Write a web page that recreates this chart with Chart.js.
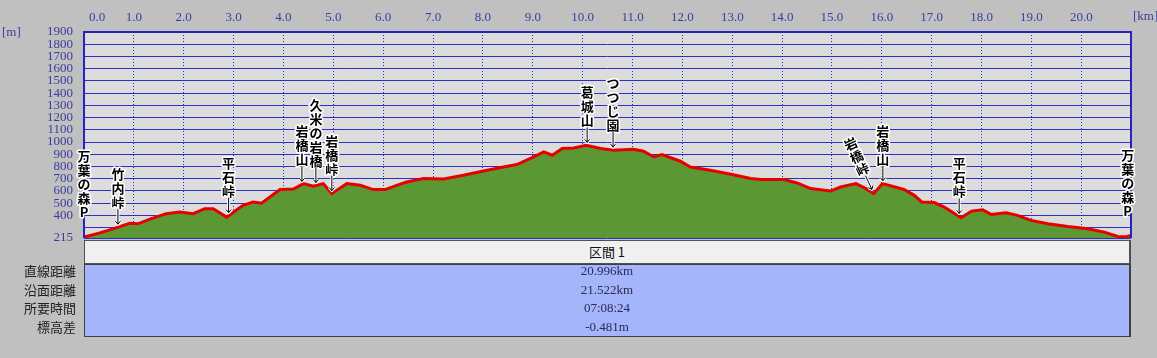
<!DOCTYPE html>
<html lang="ja">
<head>
<meta charset="utf-8">
<script src="https://cdn.jsdelivr.net/npm/chart.js@4.4.0/dist/chart.umd.min.js"></script>
<style>
  body { margin: 0; background: #c0c0c0; }
  #wrap { position: relative; width: 1157px; height: 358px; overflow: hidden; }
  #profileChart { position: absolute; left: 0; top: 0; }
  .sectionHead {
    position: absolute; left: 84px; top: 240px; width: 1044px; height: 22px;
    background: #f0f0f0; border: 1px solid #505050; border-right-width: 2px;
    font: 13px/22px "Noto Sans CJK JP", sans-serif; color: #111;
    text-align: center;
  }
  .sectionBody {
    position: absolute; left: 84px; top: 264px; width: 1044px; height: 71px;
    background: #a5b5fc; border: 1px solid #404040; border-right-width: 2px;
  }
  .rowLabels {
    position: absolute; top: 262px; left: 0; width: 76px; text-align: right;
    font: 13px/18.7px "Noto Sans CJK JP", sans-serif; color: #222;
  }
  .rowValues {
    position: absolute; top: 262px; left: 84px; width: 1046px; text-align: center;
    font: 13px/18.7px "Liberation Serif", serif; color: #2a2a55;
  }
</style>
</head>
<body>
<div id="wrap">
  <canvas id="profileChart" width="1157" height="358"></canvas>
  <div class="sectionHead" id="sectionHead"></div>
  <div class="sectionBody"></div>
  <div class="rowLabels" id="rowLabels"></div>
  <div class="rowValues" id="rowValues"></div>
</div>
<script>
// route profile: distance [km] / elevation [m]
const distKm = [
  0.00, 0.30, 0.58, 0.92, 1.08, 1.35, 1.65, 1.92, 2.19, 2.42,
  2.59, 2.86, 3.19, 3.39, 3.56, 3.93, 4.20, 4.40, 4.60, 4.80,
  4.97, 5.27, 5.54, 5.80, 6.04, 6.27, 6.47, 6.81, 7.21, 7.61,
  8.01, 8.41, 8.68, 9.02, 9.22, 9.39, 9.59, 9.82, 10.07, 10.36,
  10.62, 11.02, 11.22, 11.43, 11.59, 11.96, 12.16, 12.56, 12.97, 13.37,
  13.57, 14.04, 14.30, 14.57, 14.97, 15.17, 15.48, 15.68, 15.84, 16.01,
  16.21, 16.45, 16.65, 16.80, 17.05, 17.25, 17.59, 17.80, 18.02, 18.19,
  18.49, 18.72, 18.99, 19.33, 19.73, 20.13, 20.46, 20.73, 20.90, 20.996
];
const elevM = [
  222, 255, 290, 336, 331, 373, 414, 427, 414, 455,
  455, 386, 482, 509, 500, 611, 615, 660, 638, 660,
  578, 660, 646, 611, 611, 646, 673, 701, 698, 728,
  763, 796, 816, 878, 919, 892, 947, 952, 974, 947,
  933, 941, 925, 878, 898, 843, 796, 769, 736, 701,
  693, 693, 665, 619, 599, 632, 660, 619, 578, 660,
  638, 611, 564, 510, 505, 468, 381, 435, 446, 408,
  422, 400, 359, 332, 309, 291, 263, 227, 226, 235
];

const xTickValues = [0, 1, 2, 3, 4, 5, 6, 7, 8, 9, 10, 11, 12, 13, 14, 15, 16, 17, 18, 19, 20];
const yTickValues = [215, 300, 400, 500, 600, 700, 800, 900, 1000, 1100, 1200,
  1300, 1400, 1500, 1600, 1700, 1800, 1900];
const yHiddenLabels = [300];

// place names along the route
const placeNames = ["万葉の森P", "竹内峠", "平石峠", "岩橋山", "久米の岩橋", "岩橋峠",
  "葛城山", "つつじ園", "岩橋峠", "岩橋山", "平石峠", "万葉の森P"];
const placeKm = [0, 0.68, 2.9, 4.37, 4.65, 4.97, 10.09, 10.61, 15.8, 16.02, 17.55, 20.93];
const placeArrow = [false, true, true, true, true, true, true, true, true, true, true, false];
const placeSlant = [false, false, false, false, false, false, false, false, true, false, false, false];

const statLabels = ["直線距離", "沿面距離", "所要時間", "標高差"];
const statValues = ["20.996km", "21.522km", "07:08:24", "-0.481m"];
const sectionTitle = "区間 1";

document.getElementById("sectionHead").textContent = sectionTitle;
document.getElementById("rowLabels").innerHTML = statLabels.join("<br>");
document.getElementById("rowValues").innerHTML = statValues.join("<br>");

const tickColor = "#3c3ca0";
const gridBlue = "#2e2ec8";

function elevAt(km) {
  for (let i = 1; i < distKm.length; i++) {
    if (km <= distKm[i]) {
      const t = (km - distKm[i - 1]) / (distKm[i] - distKm[i - 1]);
      return elevM[i - 1] + t * (elevM[i] - elevM[i - 1]);
    }
  }
  return elevM[elevM.length - 1];
}

function drawPlaceLabel(ctx, text, tipX, tipY, arrow, slant) {
  const ang = slant ? 25 * Math.PI / 180 : 0;
  const dx = Math.sin(ang), dy = Math.cos(ang);
  const chars = [...text];
  ctx.save();
  ctx.font = 'bold 13px "Noto Sans CJK JP", sans-serif';
  ctx.textAlign = "center";
  ctx.textBaseline = "middle";
  ctx.lineJoin = "round";
  chars.reverse().forEach((ch, k) => {
    const d = 22 + 14 * k;
    const cx = tipX - dx * d, cy = tipY - dy * d;
    ctx.save();
    ctx.translate(cx, cy);
    ctx.rotate(-ang);
    ctx.lineWidth = 3;
    ctx.strokeStyle = "#fff";
    ctx.strokeText(ch, 0, 0);
    ctx.fillStyle = "#000";
    ctx.fillText(ch, 0, 0);
    ctx.restore();
  });
  if (arrow) {
    const sx = tipX - dx * 15, sy = tipY - dy * 15;
    const path = () => {
      ctx.beginPath();
      ctx.moveTo(sx, sy);
      ctx.lineTo(tipX, tipY);
      ctx.moveTo(tipX - 2.5 * dy - 3 * dx, tipY + 2.5 * dx - 3 * dy);
      ctx.lineTo(tipX, tipY);
      ctx.lineTo(tipX + 2.5 * dy - 3 * dx, tipY - 2.5 * dx - 3 * dy);
    };
    ctx.strokeStyle = "#fff";
    ctx.lineWidth = 3;
    path();
    ctx.stroke();
    ctx.strokeStyle = "#000";
    ctx.lineWidth = 1;
    path();
    ctx.stroke();
  }
  ctx.restore();
}

const profileDecor = {
  id: "profileDecor",
  beforeDraw(chart) {
    const { ctx, chartArea: a } = chart;
    ctx.save();
    ctx.fillStyle = "#dcdcdc";
    ctx.fillRect(a.left, a.top, a.right - a.left, a.bottom - a.top);
    ctx.restore();
  },
  afterDraw(chart) {
    const { ctx, chartArea: a, scales } = chart;
    ctx.save();
    ctx.strokeStyle = "#2424c0";
    ctx.lineWidth = 2;
    ctx.beginPath();
    ctx.moveTo(a.left, a.bottom);
    ctx.lineTo(a.left, a.top);
    ctx.lineTo(a.right, a.top);
    ctx.lineTo(a.right, a.bottom);
    ctx.stroke();

    ctx.fillStyle = tickColor;
    ctx.font = '13px "Liberation Serif", serif';
    ctx.textBaseline = "middle";
    ctx.textAlign = "left";
    ctx.fillText("[m]", 2, 33);
    ctx.fillText("[km]", 1133, 17);
    ctx.restore();

    placeNames.forEach((name, i) => {
      const x = scales.x.getPixelForValue(placeKm[i]);
      const y = scales.y.getPixelForValue(elevAt(placeKm[i])) - 3;
      drawPlaceLabel(ctx, name, x, y, placeArrow[i], placeSlant[i]);
    });
  },
};

new Chart(document.getElementById("profileChart"), {
  type: "line",
  data: {
    datasets: [
      {
        data: distKm.map((d, i) => ({ x: d, y: elevM[i] })),
        borderColor: "#e60000",
        borderWidth: 3,
        backgroundColor: "#5b9834",
        fill: "start",
        pointRadius: 0,
        tension: 0,
      },
    ],
  },
  options: {
    responsive: false,
    animation: false,
    devicePixelRatio: 1,
    layout: { padding: { left: 0, right: 26, top: 0, bottom: 120 } },
    plugins: { legend: { display: false }, tooltip: { enabled: false } },
    scales: {
      x: {
        type: "linear",
        position: "top",
        min: 0,
        max: 20.996,
        z: 1,
        afterFit: (scale) => { scale.height = 32; },
        afterBuildTicks: (scale) => { scale.ticks = xTickValues.map((v) => ({ value: v })); },
        grid: { color: gridBlue, lineWidth: 1, drawTicks: false },
        border: { display: false, dash: [1, 2] },
        ticks: {
          autoSkip: false,
          maxRotation: 0,
          padding: 7,
          color: tickColor,
          font: { family: '"Liberation Serif", serif', size: 13 },
          callback: (v) => (v === 0 ? "        0.0" : v.toFixed(1)),
        },
      },
      y: {
        min: 215,
        max: 1900,
        z: 1,
        afterFit: (scale) => { scale.width = 84; },
        afterBuildTicks: (scale) => { scale.ticks = yTickValues.map((v) => ({ value: v })); },
        grid: { color: gridBlue, lineWidth: 1, drawTicks: false },
        border: { display: false },
        ticks: {
          autoSkip: false,
          padding: 11,
          color: tickColor,
          font: { family: '"Liberation Serif", serif', size: 13 },
          callback: (v) => (yHiddenLabels.includes(v) ? "" : String(v)),
        },
      },
    },
  },
  plugins: [profileDecor],
});
</script>
</body>
</html>
